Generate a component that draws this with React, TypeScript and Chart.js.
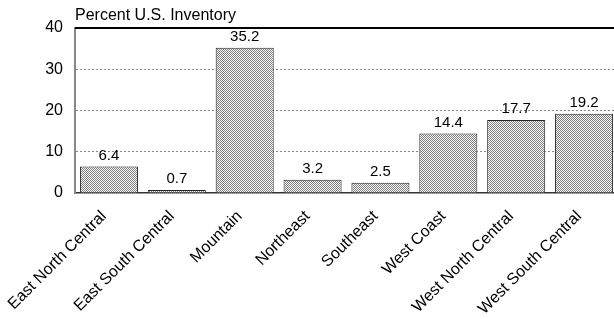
import React, { useEffect, useRef } from "react";
import { Chart, registerables } from "chart.js";

Chart.register(...registerables);

const categories = [
  "East North Central",
  "East South Central",
  "Mountain",
  "Northeast",
  "Southeast",
  "West Coast",
  "West North Central",
  "West South Central",
];
const values = [6.4, 0.7, 35.2, 3.2, 2.5, 14.4, 17.7, 19.2];
const yTicks = [0, 10, 20, 30, 40];
const title = "Percent U.S. Inventory";

const FONT = "'Liberation Sans', Arial, sans-serif";

function makePattern(ctx: CanvasRenderingContext2D) {
  const c = document.createElement("canvas");
  c.width = 2;
  c.height = 2;
  const p = c.getContext("2d")!;
  p.fillStyle = "#ffffff";
  p.fillRect(0, 0, 2, 2);
  p.fillStyle = "#7a7a7a";
  p.fillRect(0, 0, 1, 1);
  p.fillRect(1, 1, 1, 1);
  return ctx.createPattern(c, "repeat")!;
}

const decorPlugin = {
  id: "decor",
  afterDatasetsDraw(chart: any) {
    const { ctx, chartArea } = chart;
    const meta = chart.getDatasetMeta(0);
    ctx.save();
    ctx.fillStyle = "#000";
    ctx.font = `15px ${FONT}`;
    ctx.textAlign = "center";
    ctx.textBaseline = "alphabetic";
    meta.data.forEach((bar: any, i: number) => {
      ctx.fillText(values[i].toFixed(1), bar.x, bar.y - 7);
    });
    // title
    ctx.textAlign = "left";
    ctx.font = `16px ${FONT}`;
    ctx.fillText(title, chartArea.left, chartArea.top - 8);
    // top border
    ctx.strokeStyle = "#000";
    ctx.lineWidth = 2;
    ctx.beginPath();
    ctx.moveTo(chartArea.left, chartArea.top);
    ctx.lineTo(chartArea.right, chartArea.top);
    ctx.stroke();
    ctx.restore();
  },
};

export default function App() {
  const ref = useRef<HTMLCanvasElement>(null);
  useEffect(() => {
    document.body.style.margin = "0";
    const ctx = ref.current!.getContext("2d")!;
    const pattern = makePattern(ctx);
    const chart = new Chart(ctx, {
      type: "bar",
      data: {
        labels: categories,
        datasets: [
          {
            data: values,
            backgroundColor: pattern,
            borderColor: "#222222",
            borderWidth: 1,
            barPercentage: 0.855,
            categoryPercentage: 1,
          },
        ],
      },
      options: {
        responsive: false,
        animation: false,
        layout: { padding: { top: 28, right: 2, left: 0, bottom: 0 } },
        plugins: {
          legend: { display: false },
          tooltip: { enabled: false },
          title: { display: false },
        },
        scales: {
          x: {
            grid: { display: false },
            border: { display: true, color: "#333333", width: 1.5 },
            afterFit: (axis: any) => {
              axis.height = 126;
            },
            ticks: {
              color: "#000",
              font: { family: FONT, size: 16 },
              maxRotation: 45,
              minRotation: 45,
              padding: 6,
              labelOffset: -5,
            },
          },
          y: {
            min: 0,
            max: 40,
            afterBuildTicks: (axis: any) => {
              axis.ticks = yTicks.map((v) => ({ value: v }));
            },
            afterFit: (axis: any) => {
              axis.width = 75;
            },
            grid: {
              drawTicks: false,
              color: (c: any) =>
                c.tick && (c.tick.value === 0 || c.tick.value === 40)
                  ? "rgba(0,0,0,0)"
                  : "#888888",
              lineWidth: 1,
            },
            border: { display: true, color: "#888888", width: 2, dash: [2, 2] },
            ticks: {
              color: "#000",
              font: { family: FONT, size: 16 },
              padding: 12,
            },
          },
        },
      },
      plugins: [decorPlugin],
    });
    return () => chart.destroy();
  }, []);
  return (
    <div style={{ width: 614, height: 319, overflow: "hidden", position: "relative" }}>
      <canvas ref={ref} width={620} height={319} style={{ display: "block" }} />
    </div>
  );
}
